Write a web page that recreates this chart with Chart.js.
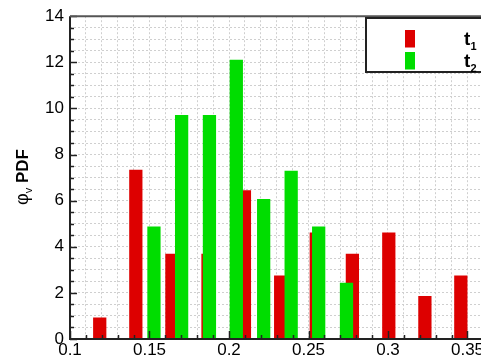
<!DOCTYPE html>
<html>
<head>
<meta charset="utf-8">
<script src="https://cdn.jsdelivr.net/npm/chart.js@4.4.1/dist/chart.umd.min.js"></script>
<style>
  html, body { margin: 0; padding: 0; background: #fff; overflow: hidden; }
  #wrap { width: 481px; height: 359px; overflow: hidden; position: relative; }
</style>
</head>
<body>
<div id="wrap"><canvas id="pdf-chart" width="540" height="359"></canvas></div>
<script>
// bin centres and PDF values for the two instants
const t1Centers = [0.1187, 0.1414, 0.1641, 0.1868, 0.2097, 0.2325, 0.2549, 0.2776, 0.3005, 0.3232, 0.3458];
const t1Pdf = [0.92, 7.33, 3.68, 3.68, 6.44, 2.74, 4.6, 3.68, 4.6, 1.85, 2.74];
const t2Centers = [0.1528, 0.1702, 0.1877, 0.2046, 0.2218, 0.2391, 0.2564, 0.2739];
const t2Pdf = [4.86, 9.7, 9.7, 12.1, 6.06, 7.28, 4.86, 2.43];
const seriesNames = ['t', 't'];
const seriesSubs = ['1', '2'];
const seriesColors = ['#dd0000', '#00dd00'];

const FONT = '"Liberation Sans", Arial, Helvetica, sans-serif';

// frame, inward ticks, y title and boxed legend
const framePlugin = {
    id: 'frame',
    afterDraw(chart) {
        const ctx = chart.ctx;
        const a = chart.chartArea;
        const xs = chart.scales.x, ys = chart.scales.y;
        ctx.save();

        // minor / major ticks on the bottom axis
        ctx.strokeStyle = '#222';
        ctx.lineWidth = 1.5;
        for (let i = 10; i <= 37; i++) {
            const px = Math.round(xs.getPixelForValue(i / 100)) + 0.5;
            const len = i % 5 === 0 ? 8 : 4;
            ctx.beginPath();
            ctx.moveTo(px, a.bottom);
            ctx.lineTo(px, a.bottom - len);
            ctx.stroke();
        }
        // minor / major ticks on the left axis
        for (let i = 0; i <= 28; i++) {
            const py = Math.round(ys.getPixelForValue(i / 2)) + 0.5;
            const len = i % 4 === 0 ? 7 : 4;
            ctx.beginPath();
            ctx.moveTo(a.left, py);
            ctx.lineTo(a.left + len, py);
            ctx.stroke();
        }

        // axis lines
        ctx.lineWidth = 2;
        ctx.strokeStyle = '#222';
        ctx.beginPath();
        ctx.moveTo(a.left, a.top);
        ctx.lineTo(a.left, a.bottom);
        ctx.lineTo(a.right, a.bottom);
        ctx.stroke();
        ctx.strokeStyle = '#555';
        ctx.beginPath();
        ctx.moveTo(a.left, a.top);
        ctx.lineTo(a.right, a.top);
        ctx.stroke();

        // y axis title: phi_v PDF
        ctx.save();
        ctx.translate(28, 177);
        ctx.rotate(-Math.PI / 2);
        ctx.fillStyle = '#000';
        ctx.textBaseline = 'alphabetic';
        const parts = [
            { t: 'φ', f: '18px ' + FONT, dy: 0 },
            { t: 'v', f: '11px ' + FONT, dy: 4 },
            { t: ' PDF', f: 'bold 17px ' + FONT, dy: 0 }
        ];
        let total = 0;
        parts.forEach(p => { ctx.font = p.f; p.w = ctx.measureText(p.t).width; total += p.w; });
        let x = -total / 2;
        parts.forEach(p => { ctx.font = p.f; ctx.fillText(p.t, x, p.dy); x += p.w; });
        ctx.restore();

        // legend box
        ctx.fillStyle = '#fff';
        ctx.fillRect(366, 18, 116, 54);
        ctx.lineWidth = 2;
        ctx.strokeStyle = '#222';
        ctx.strokeRect(366, 18, 116, 54);
        const rows = [30, 52];
        rows.forEach((top, i) => {
            ctx.fillStyle = seriesColors[i];
            ctx.fillRect(405, top, 10, 17.5);
            ctx.fillStyle = '#000';
            ctx.font = 'bold 19px ' + FONT;
            ctx.fillText(seriesNames[i], 464, top + 15);
            ctx.font = 'bold 11px ' + FONT;
            ctx.fillText(seriesSubs[i], 470.5, top + 20);
        });

        ctx.restore();
    }
};

const ctx = document.getElementById('pdf-chart').getContext('2d');
const chart = new Chart(ctx, {
    type: 'bar',
    data: {
        datasets: [
            {
                label: 't1',
                data: t1Centers.map((c, i) => ({ x: c, y: t1Pdf[i] })),
                backgroundColor: seriesColors[0],
                order: 1
            },
            {
                label: 't2',
                data: t2Centers.map((c, i) => ({ x: c, y: t2Pdf[i] })),
                backgroundColor: seriesColors[1],
                order: 0
            }
        ]
    },
    options: {
        responsive: false,
        animation: false,
        devicePixelRatio: 1,
        grouped: false,
        barThickness: 12.6,
        layout: { padding: { top: 15, left: 0, right: 40.7, bottom: 0 } },
        plugins: {
            legend: { display: false },
            tooltip: { enabled: false }
        },
        scales: {
            x: {
                type: 'linear',
                min: 0.1,
                max: 0.37,
                offset: false,
                afterFit: (s) => { s.height = 20; },
                ticks: {
                    stepSize: 0.01,
                    autoSkip: false,
                    maxRotation: 0,
                    padding: 1,
                    color: '#000',
                    font: { size: 17, family: FONT },
                    callback: (v) => {
                        const k = Math.round(v * 100);
                        return k % 5 === 0 && k < 37 ? String(k / 100) : '';
                    }
                },
                grid: { color: '#cfcfcf', lineWidth: 1, drawTicks: false, offset: false },
                border: { display: false, dash: [2, 2] }
            },
            y: {
                min: 0,
                max: 14,
                afterFit: (s) => { s.width = 70; },
                ticks: {
                    stepSize: 0.5,
                    autoSkip: false,
                    padding: 6,
                    color: '#000',
                    font: { size: 17, family: FONT },
                    callback: (v) => (v % 2 === 0 ? String(v) : '')
                },
                grid: { color: '#cfcfcf', lineWidth: 1, drawTicks: false },
                border: { display: false, dash: [2, 2] }
            }
        }
    },
    plugins: [framePlugin]
});
</script>
</body>
</html>
